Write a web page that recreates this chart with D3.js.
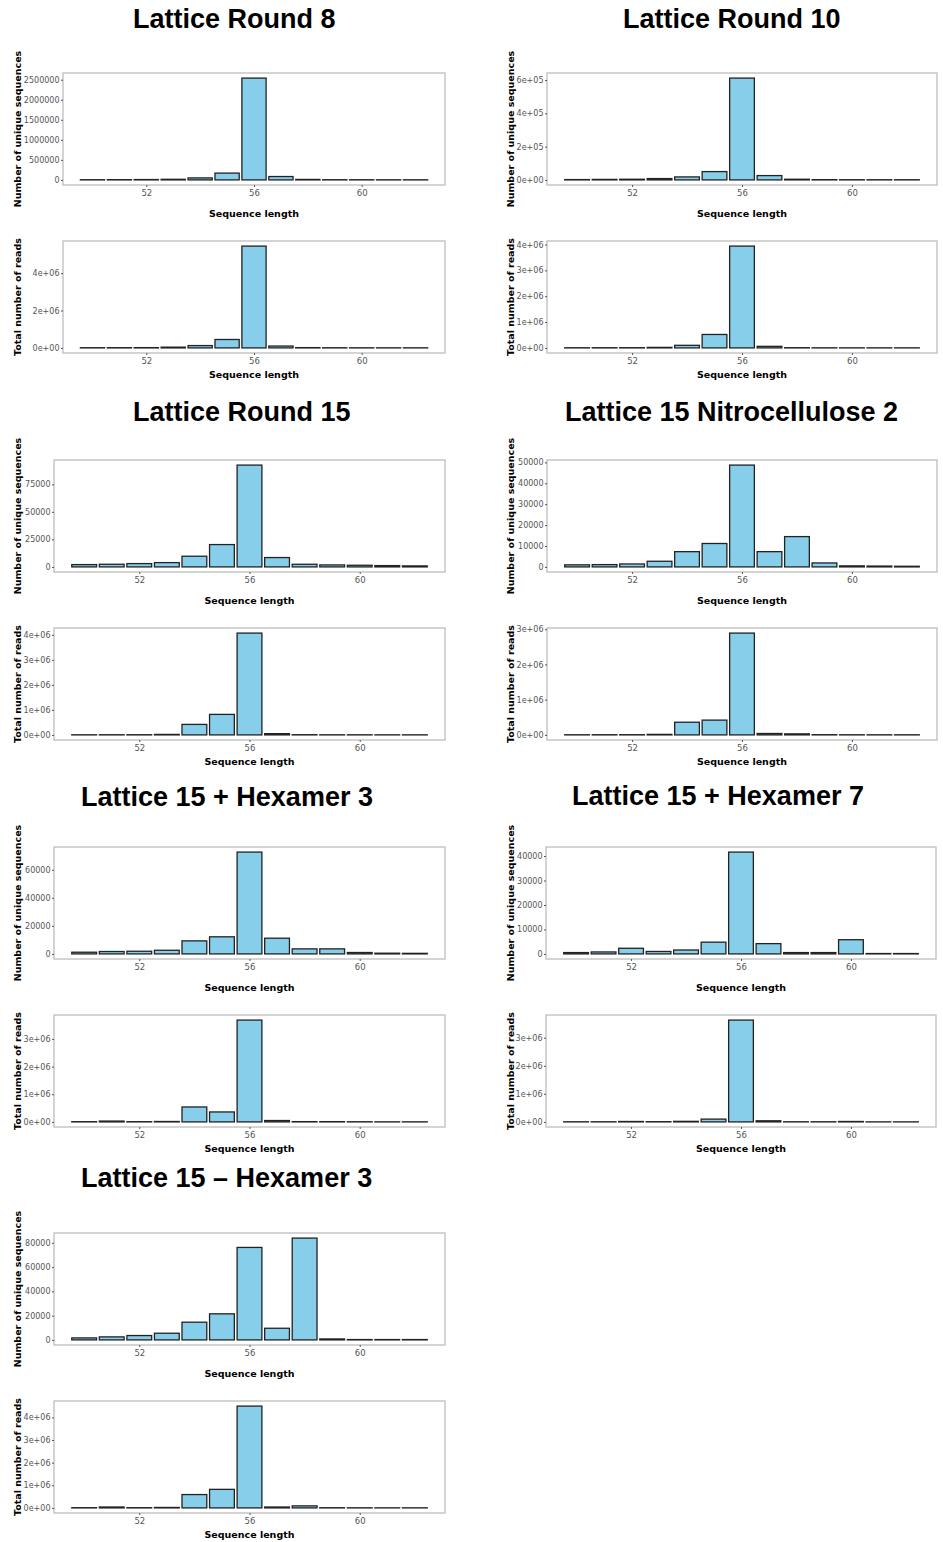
<!DOCTYPE html>
<html>
  <head>
    <meta charset="utf-8">
    <title>Sequence length distributions</title>
    <script src="https://d3js.org/d3.v7.min.js"></script>
    <style>
      body { margin: 0; background: #fff; }
      svg { display: block; }
      .title { font-family: "Liberation Sans", Arial, sans-serif; font-weight: bold; font-size: 27px; fill: #000; }
      .axisLabel { font-family: "DejaVu Sans", sans-serif; font-weight: bold; font-size: 9.5px; fill: #000; }
      .tick text { font-family: "DejaVu Sans", sans-serif; font-size: 8px; fill: #555; }
      .xaxis .tick text { font-size: 8.5px; }
      .tick line { stroke: #555; }
      .frame { fill: none; stroke: #bdbdbd; stroke-width: 1.3; }
      .bar { fill: #87ceeb; stroke: #222; stroke-width: 1.3; }
    </style>
  </head>
  <body>
    <svg id="chart" width="943" height="1542"></svg>
    <script>
      // sequence lengths on the x axis
      lengths = [50, 51, 52, 53, 54, 55, 56, 57, 58, 59, 60, 61, 62];
      xTicks = [52, 56, 60];
      // number of unique sequences per length
      uniqueR8 = [5000, 6000, 9000, 15000, 50000, 170000, 2540000, 84000, 12000, 5000, 4000, 3000, 3000];
      uniqueR10 = [2000, 3000, 4000, 8000, 18000, 50000, 612000, 26000, 4000, 1500, 1200, 1000, 1000];
      uniqueR15 = [2100, 2400, 3000, 3900, 9700, 20300, 92500, 8500, 2400, 1800, 1500, 1200, 900];
      uniqueNitro = [1000, 1100, 1400, 2700, 7300, 11200, 48700, 7300, 14500, 1900, 500, 400, 300];
      uniqueHexP3 = [1200, 1700, 1900, 2600, 9300, 12200, 72600, 11200, 3600, 3600, 1000, 500, 400];
      uniqueHexP7 = [550, 800, 2300, 1000, 1600, 4800, 41600, 4200, 550, 550, 5800, 150, 150];
      uniqueHexM3 = [1650, 2500, 3600, 5500, 14600, 21500, 76200, 9600, 83900, 800, 300, 300, 300];
      // total number of reads per length
      readsR8 = [10000, 12000, 15000, 40000, 125000, 450000, 5450000, 100000, 15000, 8000, 6000, 5000, 5000];
      readsR10 = [6000, 7000, 8000, 20000, 100000, 520000, 3940000, 60000, 8000, 4000, 3000, 3000, 3000];
      readsR15 = [5000, 6000, 7000, 20000, 420000, 820000, 4070000, 50000, 8000, 5000, 4000, 3000, 3000];
      readsNitro = [4000, 5000, 6000, 15000, 360000, 420000, 2890000, 40000, 30000, 6000, 4000, 3000, 3000];
      readsHexP3 = [8000, 30000, 8000, 15000, 540000, 360000, 3680000, 50000, 10000, 10000, 5000, 3000, 3000];
      readsHexP7 = [4000, 5000, 15000, 8000, 20000, 100000, 3630000, 40000, 5000, 5000, 15000, 2000, 2000];
      readsHexM3 = [10000, 40000, 10000, 20000, 590000, 820000, 4500000, 40000, 90000, 8000, 5000, 4000, 4000];
      // y tick values
      uniqueTicksR8 = [0, 500000, 1000000, 1500000, 2000000, 2500000];
      uniqueTicksR10 = [0, 200000, 400000, 600000];
      uniqueTicksR15 = [0, 25000, 50000, 75000];
      uniqueTicksNitro = [0, 10000, 20000, 30000, 40000, 50000];
      uniqueTicksHexP3 = [0, 20000, 40000, 60000];
      uniqueTicksHexP7 = [0, 10000, 20000, 30000, 40000];
      uniqueTicksHexM3 = [0, 20000, 40000, 60000, 80000];
      readsTicks2 = [0, 2000000, 4000000];
      readsTicks3 = [0, 1000000, 2000000, 3000000];
      readsTicks4 = [0, 1000000, 2000000, 3000000, 4000000];
      titles = ["Lattice Round 8", "Lattice Round 10", "Lattice Round 15", "Lattice 15 Nitrocellulose 2",
        "Lattice 15 + Hexamer 3", "Lattice 15 + Hexamer 7", "Lattice 15 \u2013 Hexamer 3"];

      // tick formats
      plain = d3.format("d");
      function sci(v) {
        if (v === 0) return "0e+00";
        let e = Math.floor(Math.log10(v));
        let m = Math.round(v / Math.pow(10, e));
        return m + "e+" + String(e).padStart(2, "0");
      }

      // layout of the seven panels (title position, plot frames)
      panels = [
        { title: titles[0], tx: 133, ty: 28, left: 63, right: 445, top: 73, upper: [uniqueR8, uniqueTicksR8, plain], lower: [readsR8, readsTicks2, sci], yLab: 18 },
        { title: titles[1], tx: 623, ty: 28, left: 547, right: 937, top: 73, upper: [uniqueR10, uniqueTicksR10, sci], lower: [readsR10, readsTicks4, sci], yLab: 511 },
        { title: titles[2], tx: 133, ty: 421, left: 54, right: 445, top: 460, upper: [uniqueR15, uniqueTicksR15, plain], lower: [readsR15, readsTicks4, sci], yLab: 18 },
        { title: titles[3], tx: 565, ty: 421, left: 547, right: 937, top: 460, upper: [uniqueNitro, uniqueTicksNitro, plain], lower: [readsNitro, readsTicks3, sci], yLab: 511 },
        { title: titles[4], tx: 81, ty: 806, left: 54, right: 445, top: 847, upper: [uniqueHexP3, uniqueTicksHexP3, plain], lower: [readsHexP3, readsTicks3, sci], yLab: 18 },
        { title: titles[5], tx: 572, ty: 805, left: 546, right: 936, top: 847, upper: [uniqueHexP7, uniqueTicksHexP7, plain], lower: [readsHexP7, readsTicks3, sci], yLab: 511 },
        { title: titles[6], tx: 81, ty: 1187, left: 54, right: 445, top: 1233, upper: [uniqueHexM3, uniqueTicksHexM3, plain], lower: [readsHexM3, readsTicks4, sci], yLab: 18 }
      ];
      plotHeight = 112;
      lowerOffset = 168;   // top of the reads plot relative to the unique plot
      barWidth = 0.9;

      chart = d3.select("#chart");

      function drawPlot(g, p, top, spec, yTitle, xLabGap) {
        let values = spec[0], ticks = spec[1], fmt = spec[2];
        let data = lengths.map(function(l, i) { return { len: l, value: values[i] }; });
        let maxV = d3.max(values);
        // ggplot-style 5% expansion
        let xLo = lengths[0] - barWidth / 2, xHi = lengths[lengths.length - 1] + barWidth / 2;
        let xPad = (xHi - xLo) * 0.05;
        let x = d3.scaleLinear().domain([xLo - xPad, xHi + xPad]).range([p.left, p.right]);
        let y = d3.scaleLinear().domain([-0.05 * maxV, 1.05 * maxV]).range([top + plotHeight, top]);

        g.append("rect")
          .attr("class", "frame")
          .attr("x", p.left)
          .attr("y", top)
          .attr("width", p.right - p.left)
          .attr("height", plotHeight);

        g.selectAll(null)
          .data(data)
          .join("rect")
          .attr("class", "bar")
          .attr("x", function(d) { return x(d.len - barWidth / 2); })
          .attr("width", function(d) { return x(d.len + barWidth / 2) - x(d.len - barWidth / 2); })
          .attr("y", function(d) { return y(d.value); })
          .attr("height", function(d) { return y(0) - y(d.value); });

        let yAxis = g.append("g")
          .attr("transform", "translate(" + p.left + ",0)")
          .call(d3.axisLeft(y).tickValues(ticks).tickFormat(fmt).tickSize(2).tickPadding(1.5));
        yAxis.select(".domain").remove();

        let xAxis = g.append("g")
          .attr("class", "xaxis")
          .attr("transform", "translate(0," + (top + plotHeight) + ")")
          .call(d3.axisBottom(x).tickValues(xTicks).tickFormat(d3.format("d")).tickSize(2).tickPadding(3));
        xAxis.select(".domain").remove();

        g.append("text")
          .attr("class", "axisLabel")
          .attr("text-anchor", "middle")
          .attr("x", (p.left + p.right) / 2)
          .attr("y", top + plotHeight + xLabGap)
          .text("Sequence length");

        g.append("text")
          .attr("class", "axisLabel")
          .attr("text-anchor", "middle")
          .attr("transform", "translate(" + p.yLab + "," + (top + plotHeight / 2) + ") rotate(-90)")
          .attr("dy", "0.35em")
          .text(yTitle);
      }

      panels.forEach(function(p) {
        let g = chart.append("g");
        g.append("text")
          .attr("class", "title")
          .attr("x", p.tx)
          .attr("y", p.ty)
          .text(p.title);
        drawPlot(g, p, p.top, p.upper, "Number of unique sequences", 32);
        drawPlot(g, p, p.top + lowerOffset, p.lower, "Total number of reads", 25);
      });
    </script>
  </body>
</html>
